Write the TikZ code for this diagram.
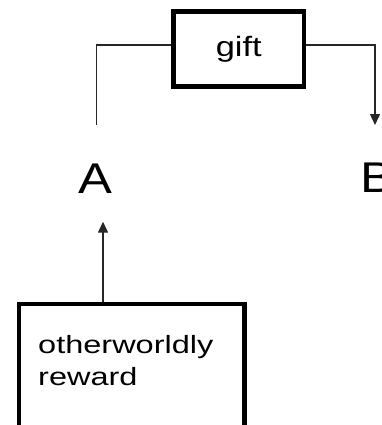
\documentclass[tikz,border=0pt]{standalone}
\usepackage{graphicx}
\usepackage{fontspec}
\setmainfont{Liberation Sans}
\usetikzlibrary{arrows.meta}
\begin{document}
\begin{tikzpicture}[x=1pt,y=-1pt,
  framebox/.style={draw=black,line width=4.8pt,inner sep=0pt},
  link/.style={draw=black!85,line width=1.4pt},
  tip/.style={-{Triangle[length=11pt,width=10pt]}},
  letter/.style={inner sep=0pt,font=\fontsize{43}{43}\selectfont}
]
\useasboundingbox (0,0) rectangle (381,425);

% top box
\node[framebox,minimum width=130.5pt,minimum height=75pt,
      font=\fontsize{28}{28}\selectfont] (gift) at (238.75,49)
  {\scalebox{1.23}[1]{gift}};

% the two parties
\node[letter,anchor=base] (A) at (95,193) {\scalebox{1.18}[1]{A}};
\node[letter,anchor=base west] (B) at (360,192) {\scalebox{1.18}[1]{B}};

% bottom box and its text
\node[framebox,minimum width=225.5pt,minimum height=126pt] (rew) at (131.75,367) {};
\node[anchor=north west,align=left,inner sep=0pt,
      font=\fontsize{25}{32}\selectfont] (rewtext) at (38,335)
  {\scalebox{1.3}[1]{otherworldly}\\\scalebox{1.3}[1]{reward}};

% connector ends
\coordinate (aup) at (96.7,125);
\coordinate (bup) at (375,125);
\coordinate (atip) at (103,221.7);

% connectors
\draw[link] ([yshift=4pt]gift.west) -| (aup);
\draw[link,tip] ([yshift=4pt]gift.east) -| (bup);
\draw[link,tip] (rew.north -| atip) -- (atip);
\end{tikzpicture}
\end{document}
